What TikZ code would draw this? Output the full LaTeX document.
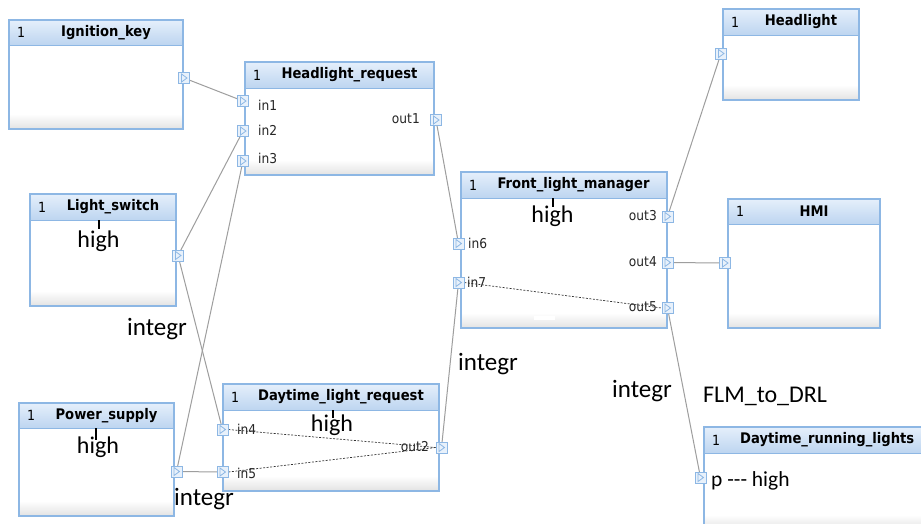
\documentclass[tikz,border=0pt]{standalone}
\usepackage{fontspec}
\setmainfont{DejaVu Sans}
\newfontfamily\condfont{DejaVu Sans Condensed}
\newfontfamily\calfont{Carlito}
\usetikzlibrary{calc}

\definecolor{boxline}{RGB}{141,183,228}
\definecolor{hdrtop}{RGB}{229,239,251}
\definecolor{hdrbot}{RGB}{189,213,240}
\definecolor{portfill}{RGB}{232,241,251}
\definecolor{wire}{RGB}{158,158,158}
\definecolor{foot}{RGB}{226,226,226}

\pgfdeclarelayer{wires}
\pgfdeclarelayer{ports}
\pgfsetlayers{main,wires,ports}

\tikzset{
  port/.style={draw=boxline, fill=portfill, line width=0.8pt,
    minimum width=11pt, minimum height=11pt, inner sep=0pt,
    path picture={\draw[boxline, line width=0.8pt]
      ([xshift=-2.5pt,yshift=4pt]path picture bounding box.center) --
      ([xshift=3pt]path picture bounding box.center) --
      ([xshift=-2.5pt,yshift=-4pt]path picture bounding box.center) -- cycle;}},
  blocktitle/.style={inner sep=0pt, font=\condfont\fontsize{14.6}{17}\selectfont\bfseries},
  idx/.style={inner sep=0pt, font=\condfont\fontsize{14}{16}\selectfont},
  pin/.style={inner sep=0pt, font=\condfont\fontsize{13.6}{16}\selectfont, text=black!85},
  big/.style={inner sep=0pt, font=\calfont\fontsize{24}{28}\selectfont},
  tick/.style={black, line width=1.3pt},
  wireline/.style={wire, line width=1pt},
  inner/.style={black!80, line width=0.7pt, dash pattern=on 2pt off 1.5pt},
}

% #1 name, #2 x1, #3 y1, #4 x2, #5 y2, #6 header bottom, #7 title x, #8 title anchor, #9 title
\newcommand\umlblock[9]{%
  \fill[white] (#2,#3) rectangle (#4,#5);
  \shade[top color=white, bottom color=foot] (#2,#5-15) rectangle (#4,#5);
  \shade[top color=hdrtop, bottom color=hdrbot] (#2,#3) rectangle (#4,#6);
  \draw[boxline, line width=1.2pt] (#2,#3) rectangle (#4,#5);
  \draw[boxline, line width=1pt] (#2,#6) -- (#4,#6);
  \node[idx, anchor=west] (#1-idx) at (#2+8, {(#3+#6)/2}) {1};
  \node[blocktitle, anchor=#8] (#1-title) at (#7, {(#3+#6)/2}) {#9};
}

\begin{document}
\begin{tikzpicture}[x=1pt, y=-1pt]
\useasboundingbox (0,0) rectangle (921,523);
\clip (0,0) rectangle (921,523);
\fill[white] (0,0) rectangle (921,523);

% blocks
\umlblock{ik}{9}{20}{183}{129}{45}{106}{center}{Ignition\_key}
\umlblock{hr}{245}{62}{434}{175}{88}{349.5}{center}{Headlight\_request}
\umlblock{ls}{30}{194}{176}{306}{220}{113}{center}{Light\_switch}
\umlblock{ps}{19}{403}{174}{516}{428}{106.5}{center}{Power\_supply}
\umlblock{dlr}{223}{384}{439}{491}{410}{341}{center}{Daytime\_light\_request}
\umlblock{flm}{461}{172}{667}{328}{198}{573.5}{center}{Front\_light\_manager}
\fill[white] (534,316) rectangle (555,319.5);
\umlblock{hl}{723}{9}{859}{100}{35}{801}{center}{Headlight}
\umlblock{hmi}{728}{199}{880}{328}{224}{814}{center}{HMI}
\umlblock{drl}{704}{427}{945}{530}{453}{740}{west}{Daytime\_running\_lights}

% pin labels
\node[pin, anchor=west] (hr-l1) at (258,105) {in1};
\node[pin, anchor=west] (hr-l2) at (258,130) {in2};
\node[pin, anchor=west] (hr-l3) at (258,158) {in3};
\node[pin, anchor=east] (hr-l4) at (420,119) {out1};
\node[pin, anchor=west] (dlr-l1) at (237,429.5) {in4};
\node[pin, anchor=west] (dlr-l2) at (237,473) {in5};
\node[pin, anchor=east] (dlr-l3) at (429,447) {out2};
\node[pin, anchor=west] (flm-l1) at (468,243.5) {in6};
\node[pin, anchor=west] (flm-l2) at (467,282.5) {in7};
\node[pin, anchor=east] (flm-l3) at (657,216) {out3};
\node[pin, anchor=east] (flm-l4) at (657,262) {out4};
\node[pin, anchor=east] (flm-l5) at (657,307) {out5};

% value annotations
\draw[tick] (99,220) -- (99,229);
\node[big, anchor=base] (ls-val) at (98.5,247) {high};
\draw[tick] (96,428) -- (96,440);
\node[big, anchor=base] (ps-val) at (98,453) {high};
\draw[tick] (333,410) -- (333,418);
\node[big, anchor=base] (dlr-val) at (332,431) {high};
\draw[tick] (553,198) -- (553,207);
\node[big, anchor=base] (flm-val) at (552.5,222) {high};
\node[big, anchor=base west, font=\calfont\fontsize{21.5}{26}\selectfont] (drl-val) at (711,486) {p --- high};

% connection annotations
\tikzset{conn/.style={big, anchor=base west, font=\calfont\fontsize{25}{29}\selectfont}}
\node[conn] (lbl-a) at (127,335) {integr};
\node[conn] (lbl-b) at (458,370) {integr};
\node[conn] (lbl-c) at (612,397) {integr};
\node[conn] (lbl-d) at (174,505) {integr};
\node[big, anchor=base west] (lbl-e) at (703,402) {FLM\_to\_DRL};

% ports
\begin{pgfonlayer}{ports}
\node[port] (ik-o)    at (184,78) {};
\node[port] (hr-in1)  at (243,101) {};
\node[port] (hr-in2)  at (243,131) {};
\node[port] (hr-in3)  at (243,161) {};
\node[port] (hr-out1) at (436,120) {};
\node[port] (ls-o)    at (178,255.5) {};
\node[port] (ps-o)    at (176.5,471.5) {};
\node[port] (dlr-in4) at (222.5,429.5) {};
\node[port] (dlr-in5) at (222.5,472) {};
\node[port] (dlr-out2) at (441.5,447.5) {};
\node[port] (flm-in6) at (458.5,243.5) {};
\node[port] (flm-in7) at (458.5,282.5) {};
\node[port] (flm-out3) at (667.5,216.5) {};
\node[port] (flm-out4) at (667.5,262.5) {};
\node[port] (flm-out5) at (667.5,308) {};
\node[port] (hl-i)    at (721,53.5) {};
\node[port] (hmi-i)   at (725,263) {};
\node[port] (drl-p)   at (700.5,477.5) {};
\end{pgfonlayer}

% connectors
\begin{pgfonlayer}{wires}
\draw[wireline] (ik-o.center) -- (hr-in1.center);
\draw[wireline] (ls-o.center) -- (hr-in2.center);
\draw[wireline] (ls-o.center) -- (dlr-in4.center);
\draw[wireline] (ps-o.center) -- (hr-in3.center);
\draw[wireline] (ps-o.center) -- (dlr-in5.center);
\draw[wireline] (hr-out1.center) -- (flm-in6.center);
\draw[wireline] (dlr-out2.center) -- (flm-in7.center);
\draw[wireline] (flm-out3.center) -- (hl-i.center);
\draw[wireline] (flm-out4.center) -- (hmi-i.center);
\draw[wireline] (flm-out5.center) -- (drl-p.center);
% internal signal paths
\draw[inner] (dlr-in4.east) -- (dlr-out2.west);
\draw[inner] (dlr-in5.east) -- (dlr-out2.west);
\draw[inner] (flm-in7.east) -- (flm-out5.west);
\end{pgfonlayer}
\end{tikzpicture}
\end{document}
